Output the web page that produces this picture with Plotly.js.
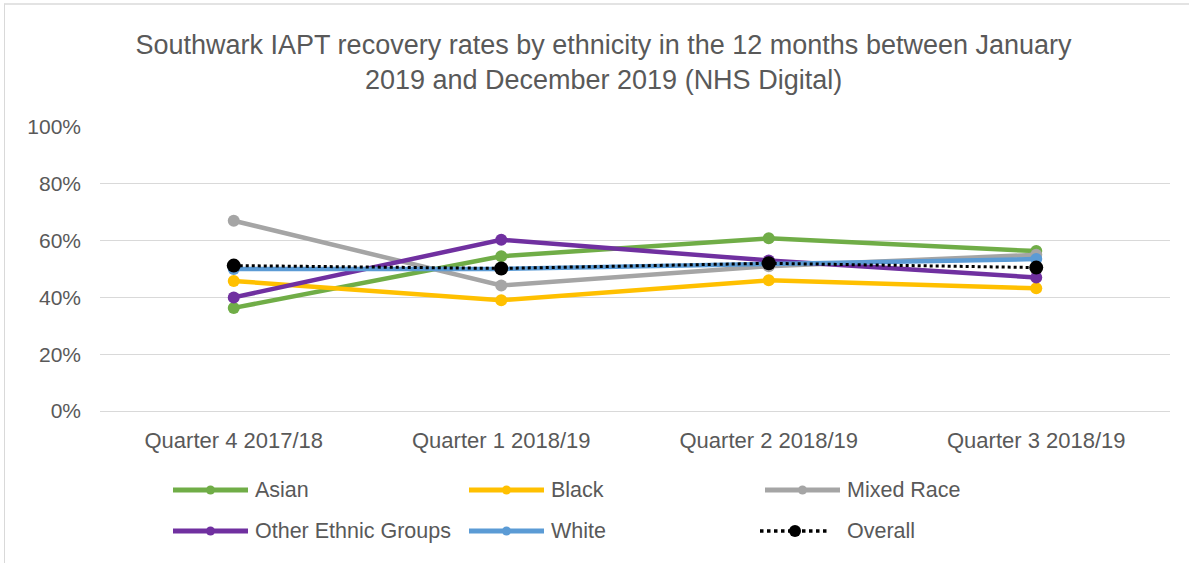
<!DOCTYPE html>
<html>
<head>
<meta charset="utf-8">
<script src="https://cdn.plot.ly/plotly-3.0.1.min.js"></script>
<style>
html,body{margin:0;padding:0;background:#fff;}
#frame{position:absolute;left:0;top:0;width:1189px;height:563px;}
#edge{position:absolute;left:4px;top:3px;width:1185px;height:560px;border-top:2px solid #e3e3e3;border-left:1px solid #d9d9d9;pointer-events:none;}
#chart{width:1189px;height:563px;}
</style>
</head>
<body>
<div id="frame"><div id="chart"></div><div id="edge"></div></div>
<script>
const categories = ["Quarter 4 2017/18", "Quarter 1 2018/19", "Quarter 2 2018/19", "Quarter 3 2018/19"];
const asian = [0.363, 0.545, 0.608, 0.563];
const black = [0.458, 0.390, 0.460, 0.432];
const mixedRace = [0.670, 0.442, 0.510, 0.550];
const otherEthnic = [0.400, 0.603, 0.530, 0.470];
const white = [0.500, 0.500, 0.518, 0.535];
const overall = [0.512, 0.502, 0.520, 0.505];
const yTickValues = [0, 0.2, 0.4, 0.6, 0.8, 1.0];

const seriesNames = ["Asian", "Black", "Mixed Race", "Other Ethnic Groups", "White", "Overall"];
const seriesValues = [asian, black, mixedRace, otherEthnic, white, overall];
const seriesColors = ["#70AD47", "#FFC000", "#A5A5A5", "#7030A0", "#5B9BD5", "#000000"];

const W = 1189, H = 563;
const M = {l: 100, r: 19, t: 127, b: 152};
const PW = W - M.l - M.r, PH = H - M.t - M.b;
const px = v => (v - M.l) / PW;       // pixel x -> paper x
const py = v => (H - M.b - v) / PH;   // pixel y -> paper y

const traces = seriesNames.map((name, i) => {
  const isOverall = name === "Overall";
  return {
    type: "scatter",
    mode: "lines+markers",
    name: name,
    x: categories,
    y: seriesValues[i],
    line: {color: seriesColors[i], width: isOverall ? 3 : 4.5, dash: isOverall ? "dot" : "solid"},
    marker: {color: seriesColors[i], size: isOverall ? 14 : 12, symbol: "circle"},
    showlegend: false,
    hoverinfo: "x+y+name"
  };
});

// custom legend (3 columns x 2 rows), built from series names / colours
const colStarts = [173, 469, 765];
const rowYs = [490, 531];
const shapes = [], annotations = [];
seriesNames.forEach((name, i) => {
  const isOverall = name === "Overall";
  const x0 = colStarts[i % 3] - (isOverall ? 5 : 0);
  const len = isOverall ? 70 : 75;
  const yy = rowYs[Math.floor(i / 3)];
  shapes.push({
    type: "line", xref: "paper", yref: "paper",
    x0: px(x0), x1: px(x0 + len), y0: py(yy), y1: py(yy),
    line: {color: seriesColors[i], width: isOverall ? 3.5 : 5, dash: isOverall ? "dot" : "solid"}
  });
  const r = isOverall ? 6 : 4.5;
  const cx = x0 + len / 2;
  shapes.push({
    type: "circle", xref: "paper", yref: "paper",
    x0: px(cx - r), x1: px(cx + r), y0: py(yy + r), y1: py(yy - r),
    fillcolor: seriesColors[i], line: {color: seriesColors[i], width: 0}
  });
  annotations.push({
    xref: "paper", yref: "paper",
    x: px(colStarts[i % 3] + 80), y: py(yy),
    xanchor: "left", yanchor: "middle",
    text: name, showarrow: false,
    font: {family: "Liberation Sans, Arial, sans-serif", size: 21.5, color: "#595959"}
  });
});

const layout = {
  width: W,
  height: H,
  paper_bgcolor: "#ffffff",
  plot_bgcolor: "#ffffff",
  font: {family: "Liberation Sans, Arial, sans-serif", color: "#595959", size: 21},
  title: {
    text: "Southwark IAPT recovery rates by ethnicity in the 12 months between January<br>2019 and December 2019 (NHS Digital)",
    font: {family: "Liberation Sans, Arial, sans-serif", size: 27, color: "#595959"},
    x: 0.5076, xanchor: "center", yref: "container", y: 1 - 54 / H, yanchor: "middle"
  },
  margin: M,
  xaxis: {
    type: "category",
    range: [-0.5, 3.5],
    showgrid: false,
    zeroline: false,
    showline: false,
    ticks: "",
    ticklabelstandoff: 14,
    tickfont: {size: 22, color: "#595959"},
    fixedrange: true
  },
  yaxis: {
    range: [0, 1],
    tickvals: yTickValues,
    tickformat: ".0%",
    showgrid: true,
    gridcolor: "#d9d9d9",
    gridwidth: 1,
    zeroline: true,
    zerolinecolor: "#d9d9d9",
    zerolinewidth: 1,
    showline: false,
    ticks: "",
    ticklabelstandoff: 18,
    tickfont: {size: 21, color: "#595959"},
    fixedrange: true
  },
  shapes: shapes,
  annotations: annotations,
  showlegend: false,
  hovermode: "closest"
};

Plotly.newPlot("chart", traces, layout, {displayModeBar: false});
</script>
</body>
</html>
